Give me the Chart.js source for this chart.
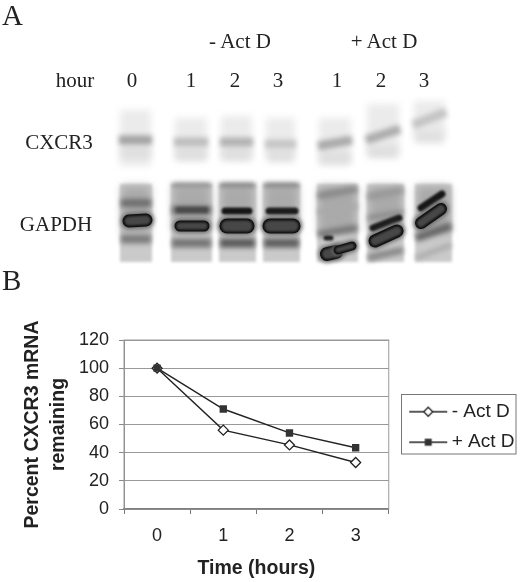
<!DOCTYPE html>
<html>
<head>
<meta charset="utf-8">
<script src="https://cdn.jsdelivr.net/npm/chart.js@4"></script>
<style>
    html, body { margin: 0; padding: 0; background: #fff; }
    #page { position: relative; width: 520px; height: 582px; overflow: hidden; }
    #gel { position: absolute; left: 0; top: 0; }
    #chartBox { position: absolute; left: 0; top: 270px; width: 520px; height: 312px; }
    .lbl { position: absolute; font-family: "Liberation Serif", serif; font-size: 21px; color: #222; line-height: 24px; white-space: nowrap; transform: translateX(-50%); }
    .panel { position: absolute; font-family: "Liberation Serif", serif; font-size: 29px; color: #222; line-height: 30px; }
</style>
</head>
<body>
<div id="page">
    <canvas id="gel" width="520" height="270"></canvas>
    <div class="panel" style="left:2px;top:0px">A</div>
    <div class="panel" style="left:2px;top:265px">B</div>
    <div class="lbl" style="left:240px;top:29px">- Act D</div>
    <div class="lbl" style="left:384px;top:29px">+ Act D</div>
    <div class="lbl" style="left:75px;top:68px">hour</div>
    <div class="lbl" style="left:132px;top:68px">0</div>
    <div class="lbl" style="left:191px;top:68px">1</div>
    <div class="lbl" style="left:235px;top:68px">2</div>
    <div class="lbl" style="left:278px;top:68px">3</div>
    <div class="lbl" style="left:337px;top:68px">1</div>
    <div class="lbl" style="left:381px;top:68px">2</div>
    <div class="lbl" style="left:424px;top:68px">3</div>
    <div class="lbl" style="left:59px;top:130px">CXCR3</div>
    <div class="lbl" style="left:56px;top:212px">GAPDH</div>
    <div id="chartBox"><canvas id="timeChart"></canvas></div>
</div>
<script>
const hours = ['0', '1', '2', '3'];
const minusActD = [100, 56, 45.5, 33];
const plusActD = [100, 71, 54, 43.5];
const yTicks = [0, 20, 40, 60, 80, 100, 120];
const seriesNames = ['- Act D', '+ Act D'];

// gel blot, only a picture of the lanes
function smear(ctx, x, y, w, h, shade, blur) {
    ctx.filter = `blur(${blur}px)`;
    ctx.fillStyle = shade;
    ctx.fillRect(x, y, w, h);
    ctx.filter = 'none';
}

function band(ctx, x1, y1, x2, y2, width, shade, blur, cap) {
    ctx.filter = `blur(${blur}px)`;
    ctx.strokeStyle = shade;
    ctx.lineWidth = width;
    ctx.lineCap = cap || 'butt';
    ctx.beginPath();
    ctx.moveTo(x1, y1);
    ctx.lineTo(x2, y2);
    ctx.stroke();
    ctx.filter = 'none';
}

// saturated band: black edge with a dark grey middle
function hotBand(ctx, x1, y1, x2, y2, width) {
    band(ctx, x1, y1, x2, y2, width + 4, '#666', 2, 'round');
    band(ctx, x1, y1, x2, y2, width + 1, '#0c0c0c', 0.5, 'round');
    band(ctx, x1, y1, x2, y2, width - 3, '#474747', 1, 'round');
}

function drawGel() {
    const ctx = document.getElementById('gel').getContext('2d');
    ctx.fillStyle = '#fff';
    ctx.fillRect(0, 0, 520, 270);

    // CXCR3 lanes: x, width, top, bottom, band y left, band y right, band shade
    const cxcr3 = [
        [119, 33, 108, 168, 140, 140, '#a2a2a2'],
        [174, 34, 116, 162, 142, 142, '#bdbdbd'],
        [220, 33, 114, 162, 142, 142, '#b2b2b2'],
        [265, 31, 116, 158, 144, 144, '#c6c6c6'],
        [318, 34, 116, 166, 146, 140, '#aaa'],
        [366, 34, 102, 156, 140, 129, '#acacac'],
        [413, 33, 99, 138, 125, 112, '#c4c4c4']
    ];
    cxcr3.forEach(l => {
        smear(ctx, l[0] + 1, l[2] + 2, l[1] - 2, l[3] - l[2] - 4, '#ebebeb', 3.5);
        smear(ctx, l[0] + 2, l[4] + 6, l[1] - 4, 12, '#dedede', 3.5);
        band(ctx, l[0], l[4], l[0] + l[1], l[5], 9, l[6], 2.8);
    });

    // GAPDH lanes: x, width, then faint bands as [y left, y right, height, shade]
    const gapdh = [
        [120, 32, [[203, 203, 8, '#6e6e6e'], [239, 239, 9, '#7c7c7c']]],
        [171, 41, [[185, 185, 4, '#888'], [210, 210, 8, '#6c6c6c'], [243, 243, 9, '#757575']]],
        [219, 37, [[185, 185, 4, '#777'], [243, 243, 9, '#5a5a5a']]],
        [263, 37, [[185, 185, 4, '#777'], [243, 243, 9, '#5e5e5e']]],
        [317, 41, [[196, 189, 7, '#8a8a8a'], [212, 206, 6, '#aaa'], [234, 228, 7, '#777']]],
        [367, 37, [[197, 190, 7, '#999'], [218, 212, 5, '#8a8a8a'], [258, 250, 7, '#888']]],
        [415, 37, [[238, 226, 8, '#666'], [258, 245, 5, '#aaa']]]
    ];
    gapdh.forEach(l => {
        smear(ctx, l[0], 184, l[1], 78, '#cacaca', 1.6);
        smear(ctx, l[0] + 2, 186, l[1] - 4, 46, '#aaa', 4);
        l[2].forEach(b => band(ctx, l[0] + 1, b[0], l[0] + l[1] - 1, b[1], b[2], b[3], 2.4));
    });

    band(ctx, 176, 210, 208, 210, 6, '#4a4a4a', 1.6);
    hotBand(ctx, 129, 221, 146, 220, 12);
    hotBand(ctx, 180, 226, 204, 226, 10);
    band(ctx, 225, 211, 249, 211, 7, '#161616', 1, 'round');
    hotBand(ctx, 227, 226, 247, 226, 14);
    band(ctx, 269, 211, 295, 211, 7, '#1c1c1c', 1, 'round');
    hotBand(ctx, 270, 226, 293, 226, 14);
    hotBand(ctx, 327, 254, 336, 252, 13);
    hotBand(ctx, 338, 250, 352, 246, 8);
    band(ctx, 326, 238, 331, 238, 5, '#222', 0.8, 'round');
    band(ctx, 373, 228, 399, 218, 7, '#1c1c1c', 1, 'round');
    hotBand(ctx, 375, 241, 397, 231, 12);
    band(ctx, 421, 208, 442, 194, 7, '#161616', 1, 'round');
    hotBand(ctx, 421, 223, 441, 209, 11);
}

// legend sample: short line with the marker in the middle
function legendSample(kind) {
    const c = document.createElement('canvas');
    c.width = 54;
    c.height = 16;
    const g = c.getContext('2d');
    g.strokeStyle = '#222';
    g.lineWidth = 1.3;
    g.beginPath();
    g.moveTo(15, 8);
    g.lineTo(53, 8);
    g.stroke();
    if (kind === 'rect') {
        g.fillStyle = '#333';
        g.fillRect(30.5, 4.5, 7, 7);
    } else {
        g.fillStyle = '#fff';
        g.beginPath();
        g.moveTo(34, 3.5);
        g.lineTo(38.5, 8);
        g.lineTo(34, 12.5);
        g.lineTo(29.5, 8);
        g.closePath();
        g.fill();
        g.stroke();
    }
    return c;
}

// grey outline of the plot and box round the legend
const frames = {
    id: 'frames',
    afterLayout(chart) {
        // legend sits level with the plot, not in the middle of the padded box
        chart.legend.top -= 33;
        chart.legend.bottom -= 33;
        // legend clips to its own box, leave room for the longer label
        chart.legend.right += 8;
    },
    beforeDatasetsDraw(chart) {
        const a = chart.chartArea;
        const ctx = chart.ctx;
        ctx.save();
        ctx.strokeStyle = '#999';
        ctx.lineWidth = 1;
        ctx.strokeRect(a.left, a.top, a.right - a.left, a.bottom - a.top);
        ctx.restore();
    },
    afterDraw(chart) {
        const ctx = chart.ctx;
        ctx.save();
        ctx.strokeStyle = '#777';
        ctx.lineWidth = 1;
        ctx.strokeRect(401.5, 124.5, 114.5, 59.5);
        ctx.restore();
    }
};

function initTimeChart() {
    const ctx = document.getElementById('timeChart').getContext('2d');
    const samples = [legendSample('rectRot'), legendSample('rect')];

    new Chart(ctx, {
        type: 'line',
        data: {
            labels: hours,
            datasets: [
                {
                    label: seriesNames[0],
                    data: minusActD,
                    borderColor: '#222',
                    borderWidth: 1.4,
                    tension: 0,
                    pointStyle: 'rectRot',
                    pointRadius: 5,
                    pointBackgroundColor: '#fff',
                    pointBorderColor: '#222',
                    pointBorderWidth: 1.3,
                    order: 1
                },
                {
                    label: seriesNames[1],
                    data: plusActD,
                    borderColor: '#222',
                    borderWidth: 1.4,
                    tension: 0,
                    pointStyle: 'rect',
                    pointRadius: 5.2,
                    pointBackgroundColor: '#333',
                    pointBorderColor: '#333',
                    pointBorderWidth: 0,
                    order: 0
                }
            ]
        },
        options: {
            responsive: true,
            maintainAspectRatio: false,
            animation: false,
            layout: { padding: { left: 19, right: 8, top: 70, bottom: 2 } },
            scales: {
                y: {
                    min: 0,
                    max: 120,
                    afterBuildTicks: axis => { axis.ticks = yTicks.map(v => ({ value: v })); },
                    afterFit: axis => { axis.width = 105; },
                    ticks: { color: '#222', padding: 10, font: { family: '"Liberation Sans", Arial, sans-serif', size: 18 } },
                    grid: { color: '#999', lineWidth: 1, tickLength: 5, tickColor: '#888' },
                    border: { color: '#888' },
                    title: {
                        display: true,
                        text: ['Percent CXCR3 mRNA', 'remaining'],
                        color: '#222',
                        padding: { top: 0, bottom: 6 },
                        font: { family: '"Liberation Sans", Arial, sans-serif', size: 19.5, weight: 'bold', lineHeight: 1.35 }
                    }
                },
                x: {
                    offset: true,
                    afterFit: axis => { axis.height = 71; },
                    ticks: { color: '#222', padding: 11, font: { family: '"Liberation Sans", Arial, sans-serif', size: 18 } },
                    grid: { offset: true, drawOnChartArea: false, tickLength: 5, tickColor: '#777' },
                    border: { color: '#666', width: 1.4 },
                    title: {
                        display: true,
                        text: 'Time (hours)',
                        color: '#222',
                        padding: { top: 10, bottom: 0 },
                        font: { family: '"Liberation Sans", Arial, sans-serif', size: 19.5, weight: 'bold' }
                    }
                }
            },
            plugins: {
                legend: {
                    display: true,
                    position: 'right',
                    labels: {
                        usePointStyle: true,
                        pointStyleWidth: 42,
                        boxHeight: 16,
                        padding: 11.5,
                        color: '#222',
                        font: { family: '"Liberation Sans", Arial, sans-serif', size: 19 },
                        generateLabels: chart => chart.data.datasets.map((d, i) => ({
                            text: d.label,
                            pointStyle: samples[i],
                            fontColor: '#222',
                            lineWidth: 0,
                            strokeStyle: 'transparent',
                            fillStyle: 'transparent',
                            datasetIndex: i
                        }))
                    }
                },
                tooltip: { enabled: false }
            }
        },
        plugins: [frames]
    });
}

document.addEventListener('DOMContentLoaded', function() {
    drawGel();
    initTimeChart();
});
</script>
</body>
</html>
